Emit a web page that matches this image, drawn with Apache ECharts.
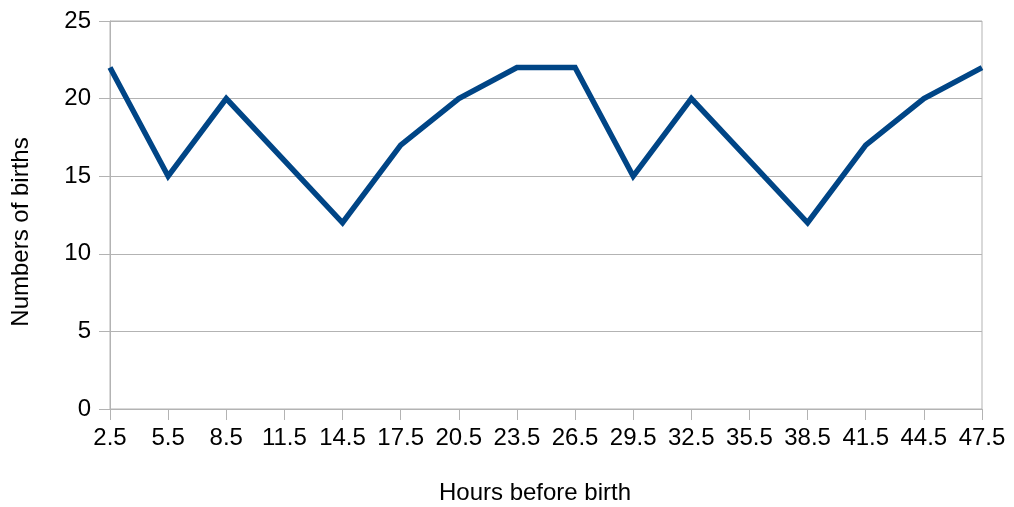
<!DOCTYPE html>
<html>
<head>
<meta charset="utf-8">
<script src="https://cdn.jsdelivr.net/npm/echarts@6/dist/echarts.min.js"></script>
<style>
  html, body { margin: 0; padding: 0; background: #fff; }
  #chart { width: 1014px; height: 507px; }
</style>
</head>
<body>
<div id="chart"></div>
<script>
const hours = ["2.5", "5.5", "8.5", "11.5", "14.5", "17.5", "20.5", "23.5",
  "26.5", "29.5", "32.5", "35.5", "38.5", "41.5", "44.5", "47.5"];
const births = [22, 15, 20, 16, 12, 17, 20, 22, 22, 15, 20, 16, 12, 17, 20, 22];

const chart = echarts.init(document.getElementById("chart"));
const grey = "#b3b3b3";
const font = "Liberation Sans";

chart.setOption({
  animation: false,
  grid: {
    left: 110, right: 32, top: 21, bottom: 98,
    containLabel: false,
    outerBoundsMode: "none",
    show: true, borderColor: grey, borderWidth: 1
  },
  xAxis: {
    type: "category",
    data: hours,
    boundaryGap: false,
    name: "Hours before birth",
    nameLocation: "middle",
    nameGap: 72,
    nameTextStyle: { fontFamily: font, fontSize: 24, color: "#000", padding: [0, 22, 0, 0] },
    axisLine: { show: true, lineStyle: { color: grey } },
    axisTick: { show: true, inside: false, length: 11, interval: 0, lineStyle: { color: grey } },
    axisLabel: { fontFamily: font, fontSize: 24, color: "#000", margin: 17, interval: 0, hideOverlap: false },
    splitLine: { show: false }
  },
  yAxis: {
    type: "value",
    min: 0, max: 25, interval: 5,
    name: "Numbers of births",
    nameLocation: "middle",
    nameGap: 77,
    nameTextStyle: { fontFamily: font, fontSize: 24, color: "#000", padding: [0, 34, 0, 0] },
    axisLine: { show: true, lineStyle: { color: grey } },
    axisTick: { show: true, inside: false, length: 11, lineStyle: { color: grey } },
    axisLabel: { fontFamily: font, fontSize: 24, color: "#000", margin: 19 },
    splitLine: { lineStyle: { color: grey } }
  },
  series: [{
    type: "line",
    data: births,
    symbol: "none",
    lineStyle: { color: "#004586", width: 5.5, join: "miter" }
  }]
});
</script>
</body>
</html>
